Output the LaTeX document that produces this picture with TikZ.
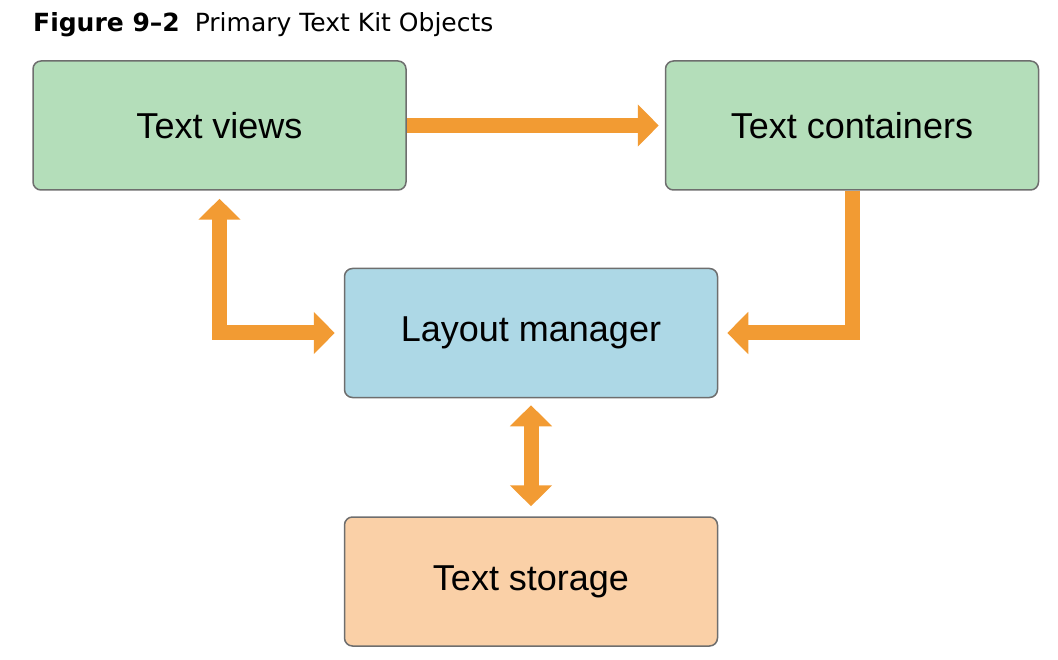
\documentclass[tikz,border=0pt]{standalone}
\usepackage{fontspec}
\setmainfont{Liberation Sans}
\newfontfamily\titlefont{DejaVu Sans}
\usepackage{xcolor}
\usepackage{tikz}
\usetikzlibrary{arrows.meta}
\definecolor{viewgreen}{RGB}{180,222,186}
\definecolor{layoutblue}{RGB}{173,216,230}
\definecolor{storagepeach}{RGB}{250,208,167}
\definecolor{kitorange}{RGB}{242,155,51}
\definecolor{edgegray}{RGB}{110,110,110}
\begin{document}
\begin{tikzpicture}[
    x=1pt, y=-1pt,
    box/.style={rectangle, rounded corners=8pt, draw=edgegray, line width=1.5pt, minimum width=373pt, minimum height=129pt, align=center, font=\fontsize{36}{40}\selectfont},
    caption/.style={anchor=base west, inner sep=0pt, font=\titlefont\fontsize{25}{28}\selectfont},
    arrow/.style={-{Triangle[width=41pt, length=21pt]}, line width=15pt, draw=kitorange},
    both/.style={{Triangle[width=41pt, length=21pt]}-{Triangle[width=41pt, length=21pt]}, line width=15pt, draw=kitorange}
]
\useasboundingbox (0,0) rectangle (1058,660);

\node[caption] (title) at (33,32) {\textbf{Figure 9–2}\hspace{0.6em}Primary Text Kit Objects};

\node[box, fill=viewgreen] (views) at (219.5,125.5) {Text views};
\node[box, fill=viewgreen] (containers) at (852,125.5) {Text containers};
\node[box, fill=layoutblue] (layout) at (531,333) {Layout manager};
\node[box, fill=storagepeach] (storage) at (531,581.5) {Text storage};

\draw[arrow, shorten >=6pt] (views) -- (containers);
\draw[both] ([yshift=-8pt]views.south) |- ([xshift=-9pt]layout.west);
\draw[arrow] (containers.south) |- ([xshift=9pt]layout.east);
\draw[both] ([yshift=-7pt]layout.south) -- ([yshift=10pt]storage.north);

\end{tikzpicture}
\end{document}
